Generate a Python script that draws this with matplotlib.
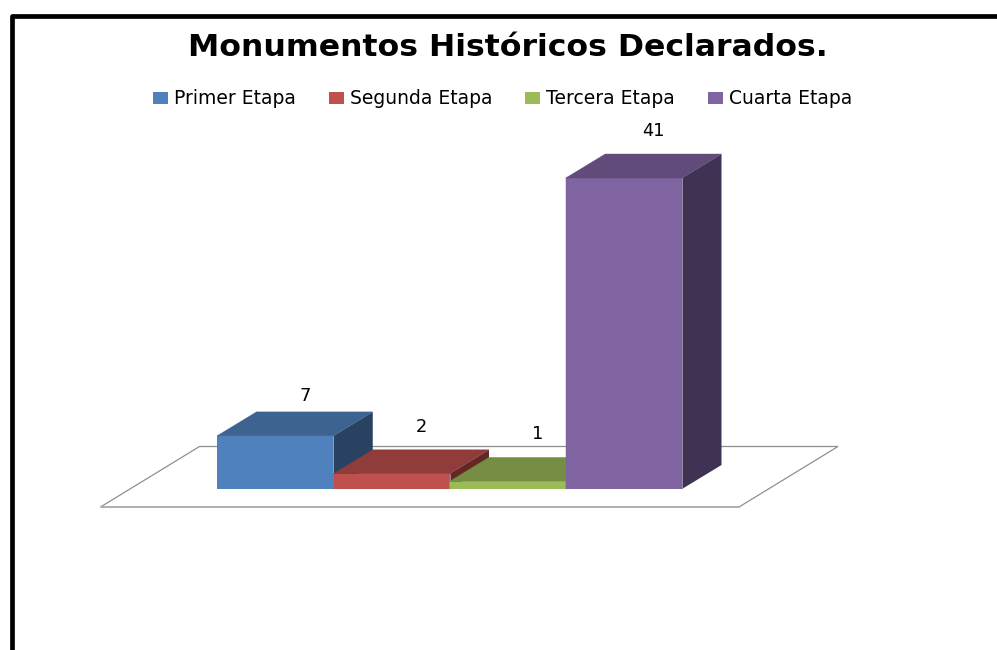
import matplotlib
matplotlib.use('Agg')
import matplotlib.pyplot as plt
from matplotlib.patches import Patch, Polygon

# Data
etapas = ['Primer Etapa', 'Segunda Etapa', 'Tercera Etapa', 'Cuarta Etapa']
valores = [7, 2, 1, 41]
frente = ['#4f81bd', '#c0504d', '#9bbb59', '#8064a2']
arriba = ['#3d6390', '#903c3a', '#758e43', '#604b7a']
lado = ['#294261', '#622826', '#4e5f2d', '#403252']

W, H = 997, 650
PX_X = 116.25   # pixels per bar
PX_Y = 7.585    # pixels per unit
X0, Y0 = 217, 489  # pixel position of the first bar at value 0
DX = 39.5 / PX_X  # oblique depth
DY = 24 / PX_Y

fig = plt.figure(figsize=(W / 100, H / 100), dpi=100)
ax = fig.add_axes([0, 0, 1, 1])
ax.set_xlim(-X0 / PX_X, (W - X0) / PX_X)
ax.set_ylim((Y0 - H) / PX_Y, Y0 / PX_Y)
ax.axis('off')

# frame of the slide, runs off the right and bottom
ax.plot([11.5 / W, 11.5 / W, 1.0], [0, 1 - 16 / H, 1 - 16 / H], transform=ax.transAxes,
        color='black', lw=3.4, solid_joinstyle='round', clip_on=False)

# floor of the 3D chart
fl = -18 / PX_Y
back = 42.5 / PX_Y
fx0 = -116.5 / PX_X
fx1 = 522 / PX_X
ax.add_patch(Polygon([(fx0, fl), (fx0 + 99 / PX_X, back), (fx1 + 99 / PX_X, back), (fx1, fl)],
                     closed=True, facecolor='white', edgecolor='#8f8f8f', lw=0.9, zorder=1))
ax.plot([fx0, fx1], [fl, fl], color='#b0b0b0', lw=1.2, zorder=1)

for i, v in enumerate(valores):
    ax.bar(i, v, width=1, align='edge', color=frente[i], zorder=2 + i, lw=0, snap=False)
    ax.add_patch(Polygon([(i + 1, 0), (i + 1 + DX, DY), (i + 1 + DX, v + DY), (i + 1, v)],
                         closed=True, facecolor=lado[i], edgecolor='none', zorder=2 + i))
    ax.add_patch(Polygon([(i, v), (i + DX, v + DY), (i + 1 + DX, v + DY), (i + 1, v)],
                         closed=True, facecolor=arriba[i], edgecolor=arriba[i], lw=0.3, zorder=2 + i))
    ax.plot([i + 1, i + 1], [0, v], color='#b9b2c4', lw=0.5, zorder=2 + i)
    # the 7 sits closer to its bar than the others
    gap = 16 if v == 7 else 23
    ax.annotate(str(v), (i + 0.5, v + DY), xytext=(30 * 0.72, gap * 0.72), textcoords='offset points',
                ha='center', va='center', fontsize=12.8, color='black', zorder=20)

fig.text(508 / W, 1 - 48 / H, 'Monumentos Históricos Declarados.', ha='center', va='center',
         fontsize=22.65, fontweight='bold', color='black')

handles = [Patch(facecolor=c, edgecolor='none') for c in frente]
fig.legend(handles, etapas, ncol=4, loc='center', bbox_to_anchor=(502.5 / W, 1 - 99 / H), frameon=False,
           fontsize=13.5, handlelength=0.8, handleheight=0.65, handletextpad=0.32, columnspacing=1.75,
           borderpad=0, labelspacing=0)

fig.savefig('out.png', dpi=100)
